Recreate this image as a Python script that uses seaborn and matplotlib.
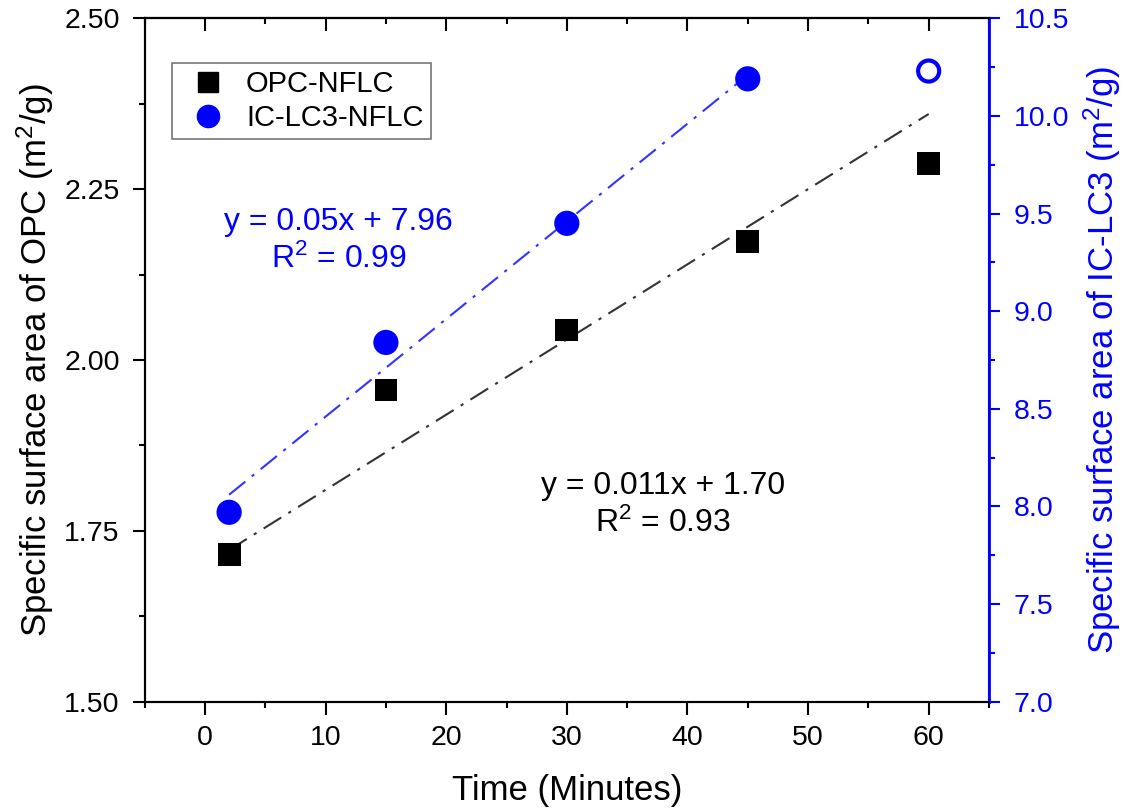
import numpy as np
import pandas as pd
import matplotlib
matplotlib.use("Agg")
import matplotlib.pyplot as plt
from matplotlib.ticker import MultipleLocator, FormatStrFormatter
from matplotlib.lines import Line2D
import seaborn as sns

# donnees
time_min = [2, 15, 30, 45, 60]
opc_ssa = [1.716, 1.956, 2.044, 2.174, 2.288]
iclc3_time = [2, 15, 30, 45]
iclc3_ssa = [7.97, 8.84, 9.45, 10.19]
iclc3_out_time = [60]
iclc3_out_ssa = [10.23]

# droites de regression (equations affichees)
opc_fit = (0.011, 1.70)
iclc3_fit = (0.05, 7.96)
opc_fit_range = [2, 60]
iclc3_fit_range = [2, 45]

BLUE = "#0000FF"

sns.set_theme(style="ticks")
plt.rcParams["font.family"] = ["Liberation Sans", "DejaVu Sans"]
plt.rcParams["mathtext.fontset"] = "custom"
plt.rcParams["mathtext.rm"] = "Liberation Sans"
plt.rcParams["mathtext.it"] = "Liberation Sans:italic"
for k in ["text.color", "axes.labelcolor", "xtick.color", "ytick.color", "axes.edgecolor"]:
    plt.rcParams[k] = "black"

fig = plt.figure(figsize=(11.26, 8.10), dpi=100)
ax = fig.add_axes([0.1285, 0.1337, 0.7498, 0.8437])
ax2 = ax.twinx()

opc = pd.DataFrame({"t": time_min, "s": opc_ssa})
lc3 = pd.DataFrame({"t": iclc3_time, "s": iclc3_ssa})
lc3_out = pd.DataFrame({"t": iclc3_out_time, "s": iclc3_out_ssa})

xo = np.array(opc_fit_range, float)
xl = np.array(iclc3_fit_range, float)
sns.lineplot(x=xo, y=opc_fit[0] * xo + opc_fit[1], ax=ax, color="#333333",
             lw=1.5, linestyle=(0, (10, 4, 1.5, 4)), zorder=2)
sns.lineplot(x=xl, y=iclc3_fit[0] * xl + iclc3_fit[1], ax=ax2, color="#3333FF",
             lw=1.5, linestyle=(0, (10, 4, 1.5, 4)), zorder=2)

sns.scatterplot(data=opc, x="t", y="s", ax=ax, marker="s", s=270, color="black",
                edgecolor="none", zorder=3)
sns.scatterplot(data=lc3, x="t", y="s", ax=ax2, marker="o", s=330, color=BLUE,
                edgecolor="none", zorder=3)
sns.scatterplot(data=lc3_out, x="t", y="s", ax=ax2, marker="o", s=230, facecolor="none",
                edgecolor=BLUE, linewidth=3, zorder=3)

ax.set_xlim(-5, 65)
ax.set_ylim(1.5, 2.5)
ax2.set_ylim(7.0, 10.5)

ax.xaxis.set_major_locator(MultipleLocator(10))
ax.xaxis.set_minor_locator(MultipleLocator(5))
ax.yaxis.set_major_locator(MultipleLocator(0.25))
ax.yaxis.set_minor_locator(MultipleLocator(0.125))
ax2.yaxis.set_major_locator(MultipleLocator(0.5))
ax2.yaxis.set_minor_locator(MultipleLocator(0.25))
ax.yaxis.set_major_formatter(FormatStrFormatter("%.2f"))
ax2.yaxis.set_major_formatter(FormatStrFormatter("%.1f"))

ax.tick_params(axis="x", which="both", direction="out", top=False, labelsize=20.5, width=1.5)
ax.tick_params(axis="x", which="major", length=9, pad=8)
ax.tick_params(axis="x", which="minor", length=4.5)
ax.tick_params(axis="y", which="both", direction="out", labelsize=20.5, width=1.5)
ax.tick_params(axis="y", which="major", length=9, pad=9)
ax.tick_params(axis="y", which="minor", length=4.5)
ax2.tick_params(axis="y", which="both", direction="out", labelsize=20.5, width=1.5,
                colors=BLUE)
ax2.tick_params(axis="y", which="major", length=8, pad=10)
ax2.tick_params(axis="y", which="minor", length=4.5)
# ticks du haut vers l'interieur
sec = ax.secondary_xaxis("top")
sec.xaxis.set_major_locator(MultipleLocator(10))
sec.xaxis.set_minor_locator(MultipleLocator(5))
sec.tick_params(which="both", direction="in", labeltop=False, width=1.5)
sec.tick_params(which="major", length=9)
sec.tick_params(which="minor", length=4.5)
sec.spines["top"].set_linewidth(1.5)

for sp in ax.spines.values():
    sp.set_linewidth(1.5)
for sp in ax2.spines.values():
    sp.set_linewidth(1.5)
ax2.spines["right"].set_color(BLUE)
ax2.spines["right"].set_linewidth(2)

ax.set_xlabel("Time (Minutes)", fontsize=25, labelpad=16)
ax.set_ylabel("Specific surface area of OPC (m$^2$/g)", fontsize=25, labelpad=6)
ax2.set_ylabel("Specific surface area of IC-LC3 (m$^2$/g)", fontsize=25, color=BLUE, labelpad=9)

ax.text(11.1, 2.174, "y = 0.05x + 7.96\nR$^2$ = 0.99", color=BLUE, fontsize=23,
        ha="center", va="center", linespacing=1.3)
ax.text(38.0, 1.788, "y = 0.011x + 1.70\nR$^2$ = 0.93", color="black", fontsize=23,
        ha="center", va="center", linespacing=1.3)

handles = [Line2D([], [], marker="s", color="black", linestyle="none", markersize=14),
           Line2D([], [], marker="o", color=BLUE, linestyle="none", markersize=16)]
leg = ax.legend(handles, ["OPC-NFLC", "IC-LC3-NFLC"], loc="upper left",
                bbox_to_anchor=(0.032, 0.935), fontsize=21, frameon=True, fancybox=False,
                edgecolor="#555555", handletextpad=0.3, borderpad=0.25, labelspacing=0.2,
                handlelength=2.0, borderaxespad=0)
leg.get_frame().set_linewidth(1.2)

fig.savefig("out.png", dpi=100)
